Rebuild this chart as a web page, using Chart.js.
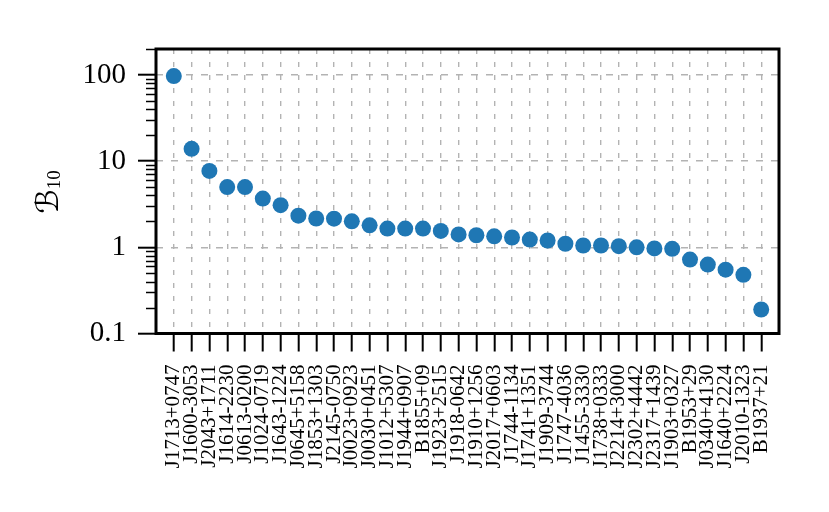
<!DOCTYPE html>
<html>
<head>
<meta charset="utf-8">
<script src="https://cdn.jsdelivr.net/npm/chart.js@4"></script>
<style>
  html, body { margin: 0; padding: 0; background: #fff; }
  #wrap { width: 829px; height: 512px; }
</style>
</head>
<body>
<div id="wrap"><canvas id="bfChart" width="829" height="512"></canvas></div>
<script>
const pulsars = ["J1713+0747", "J1600-3053", "J2043+1711", "J1614-2230", "J0613-0200", "J1024-0719",
    "J1643-1224", "J0645+5158", "J1853+1303", "J2145-0750", "J0023+0923", "J0030+0451",
    "J1012+5307", "J1944+0907", "B1855+09", "J1923+2515", "J1918-0642", "J1910+1256",
    "J2017+0603", "J1744-1134", "J1741+1351", "J1909-3744", "J1747-4036", "J1455-3330",
    "J1738+0333", "J2214+3000", "J2302+4442", "J2317+1439", "J1903+0327", "B1953+29",
    "J0340+4130", "J1640+2224", "J2010-1323", "B1937+21"];
const bayesFactors = [97, 13.9, 7.7, 5.0, 5.0, 3.68, 3.08, 2.33, 2.16, 2.15, 2.0, 1.80,
    1.65, 1.65, 1.65, 1.55, 1.41, 1.38, 1.34, 1.30, 1.23, 1.20, 1.10, 1.05,
    1.05, 1.03, 1.0, 0.97, 0.96, 0.72, 0.63, 0.55, 0.48, 0.19];
const yTicks = [0.1, 1, 10, 100];
const yTickLabels = ["0.1", "1", "10", "100"];

const serif = '"Liberation Serif", "Times New Roman", serif';

// frame, minor log ticks and the y title
const decorations = {
    id: 'decorations',
    afterDraw(chart) {
        const ctx = chart.ctx;
        const a = chart.chartArea;
        const y = chart.scales.y;
        ctx.save();
        // minor ticks
        ctx.strokeStyle = '#000';
        ctx.lineWidth = 1.5;
        for (let e = -1; e <= 2; e++) {
            for (let m = 2; m <= 9; m++) {
                const v = m * Math.pow(10, e);
                if (v > y.max) continue;
                const py = Math.round(y.getPixelForValue(v)) + 0.5;
                ctx.beginPath();
                ctx.moveTo(a.left - 10, py);
                ctx.lineTo(a.left, py);
                ctx.stroke();
            }
        }
        // frame
        ctx.lineWidth = 3;
        ctx.strokeRect(a.left, a.top, a.right - a.left, a.bottom - a.top);

        // y title: script B with subscript 10
        ctx.translate(47, 192);
        ctx.rotate(-Math.PI / 2);
        ctx.fillStyle = '#000';
        ctx.textBaseline = 'alphabetic';
        ctx.textAlign = 'left';
        ctx.font = '31px "DejaVu Serif", "DejaVu Sans", serif';
        const wB = ctx.measureText('ℬ').width;
        ctx.font = '19px ' + serif;
        const wS = ctx.measureText('10').width;
        const x0 = -(wB + wS) / 2;
        ctx.font = '31px "DejaVu Serif", "DejaVu Sans", serif';
        ctx.fillText('ℬ', x0, 11);
        ctx.font = '19px ' + serif;
        ctx.fillText('10', x0 + wB, 13);
        ctx.restore();
    }
};

document.addEventListener('DOMContentLoaded', function() {
    const points = bayesFactors.map((v, i) => ({ x: i, y: v }));
    const ctx = document.getElementById('bfChart').getContext('2d');
    new Chart(ctx, {
        type: 'scatter',
        data: {
            datasets: [{
                data: points,
                backgroundColor: '#1f77b4',
                borderColor: '#1f77b4',
                pointRadius: 8,
                pointHoverRadius: 8,
                borderWidth: 0
            }]
        },
        options: {
            responsive: false,
            animation: false,
            events: [],
            layout: { padding: { top: 49, right: 50, left: 0, bottom: 0 } },
            plugins: { legend: { display: false }, tooltip: { enabled: false } },
            scales: {
                x: {
                    type: 'linear',
                    min: -1,
                    max: pulsars.length,
                    afterBuildTicks: (scale) => {
                        scale.ticks = pulsars.map((p, i) => ({ value: i }));
                    },
                    afterFit: (scale) => { scale.height = 178.5; },
                    grid: {
                        color: '#b3b3b3',
                        lineWidth: 1.4,
                        tickLength: 18,
                        tickColor: '#000',
                        tickWidth: 2,
                        tickBorderDash: []
                    },
                    border: { display: false, dash: [5, 8] },
                    ticks: {
                        autoSkip: false,
                        minRotation: 90,
                        maxRotation: 90,
                        padding: 13,
                        color: '#000',
                        font: { family: serif, size: 21 },
                        callback: (v) => pulsars[v]
                    }
                },
                y: {
                    type: 'logarithmic',
                    min: 0.1,
                    max: 200,
                    afterBuildTicks: (scale) => {
                        scale.ticks = yTicks.map(v => ({ value: v, major: true }));
                    },
                    afterFit: (scale) => { scale.width = 156; },
                    grid: {
                        color: (c) => c.tick && c.tick.value === 0.1 ? 'rgba(0,0,0,0)' : '#b3b3b3',
                        lineWidth: 1.4,
                        tickLength: 18,
                        tickColor: '#000',
                        tickWidth: 2,
                        tickBorderDash: []
                    },
                    border: { display: false, dash: [7, 8] },
                    ticks: {
                        padding: 12,
                        color: '#000',
                        font: { family: serif, size: 29 },
                        callback: (v) => yTickLabels[yTicks.indexOf(v)]
                    }
                }
            }
        },
        plugins: [decorations]
    });
});
</script>
</body>
</html>
